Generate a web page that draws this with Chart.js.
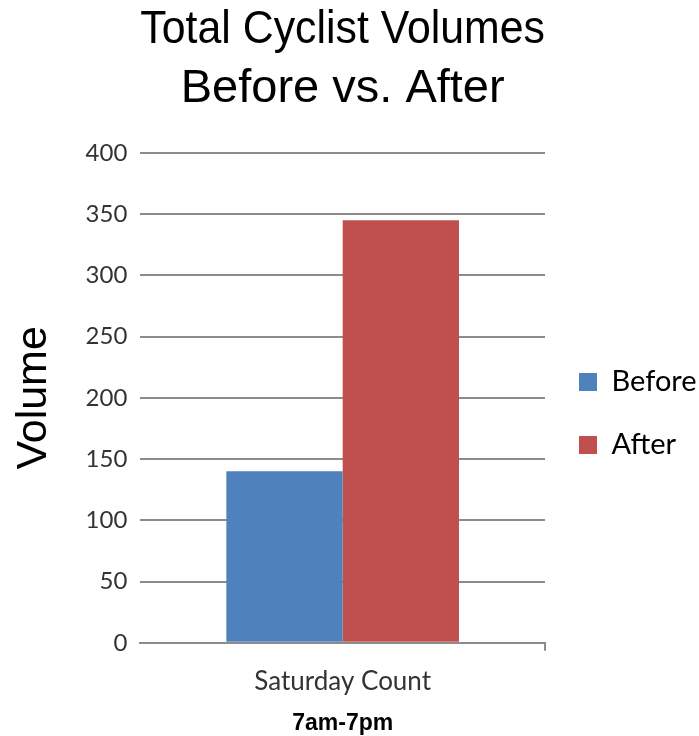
<!DOCTYPE html>
<html>
<head>
<meta charset="utf-8">
<title>Total Cyclist Volumes</title>
<script src="https://cdn.jsdelivr.net/npm/chart.js@4/dist/chart.umd.min.js"></script>
<style>
  html, body { margin: 0; padding: 0; background: #ffffff; }
  #wrap { width: 699px; height: 736px; position: relative; }
</style>
</head>
<body>
<div id="wrap"><canvas id="chart"></canvas></div>
<script>
// Counts, 7am-7pm, one Saturday before and after the change
const categories = ['Saturday Count'];
const seriesNames = ['Before', 'After'];
const beforeValues = [140];
const afterValues = [345];
const titleLines = ['Total Cyclist Volumes', 'Before vs. After'];
const yAxisTitle = 'Volume';
const xAxisTitle = '7am-7pm';
const yMin = 0, yMax = 400, yStep = 50;

const seriesColors = ['#4F81BD', '#C0504D'];
const gridColor = '#8c8c8c';

new Chart(document.getElementById('chart'), {
  type: 'bar',
  data: {
    labels: categories,
    datasets: [
      { label: seriesNames[0], data: beforeValues, backgroundColor: seriesColors[0], borderWidth: 0 },
      { label: seriesNames[1], data: afterValues, backgroundColor: seriesColors[1], borderWidth: 0 }
    ]
  },
  options: {
    responsive: true,
    maintainAspectRatio: false,
    animation: false,
    layout: { padding: 0 },
    datasets: { bar: { categoryPercentage: 0.575, barPercentage: 1.0 } },
    plugins: {
      tooltip: { enabled: false },
      title: {
        display: true,
        fullSize: false,
        text: titleLines,
        color: '#000000',
        font: { family: '"Liberation Sans", Arial, sans-serif', size: 47, weight: 'normal', lineHeight: 1.255 },
        padding: { top: 1, bottom: 34 }
      },
      legend: {
        display: true,
        position: 'right',
        fullSize: false,
        maxWidth: 154,
        title: { display: true, text: '', font: { size: 31, lineHeight: 1 }, padding: 0 },
        labels: {
          color: '#000000',
          font: { family: 'Lato, "Open Sans", sans-serif', size: 29 },
          boxWidth: 18,
          boxHeight: 18,
          padding: 34
        }
      }
    },
    scales: {
      x: {
        offset: true,
        border: { display: true, color: gridColor, width: 2 },
        grid: {
          display: true,
          drawOnChartArea: false,
          drawTicks: true,
          tickLength: 8,
          lineWidth: 2,
          color: (ctx) => (ctx.index === 0 ? 'rgba(0,0,0,0)' : gridColor)
        },
        ticks: {
          color: '#333333',
          padding: 15,
          font: { family: 'Lato, "Open Sans", sans-serif', size: 26 }
        },
        title: {
          display: true,
          text: xAxisTitle,
          color: '#000000',
          font: { family: '"Liberation Sans", Arial, sans-serif', size: 23, weight: 'bold', lineHeight: 1.0 },
          padding: { top: 0, bottom: 1 }
        }
      },
      y: {
        min: yMin,
        max: yMax,
        border: { display: false },
        grid: { color: gridColor, lineWidth: 2, drawTicks: false },
        ticks: {
          stepSize: yStep,
          color: '#333333',
          padding: 13,
          font: { family: 'Lato, "Open Sans", sans-serif', size: 24 }
        },
        title: {
          display: true,
          text: yAxisTitle,
          color: '#000000',
          font: { family: '"Liberation Sans", Arial, sans-serif', size: 43, weight: 'normal', lineHeight: 1.2 },
          padding: { top: 8, bottom: 13 }
        }
      }
    }
  }
});
</script>
</body>
</html>
